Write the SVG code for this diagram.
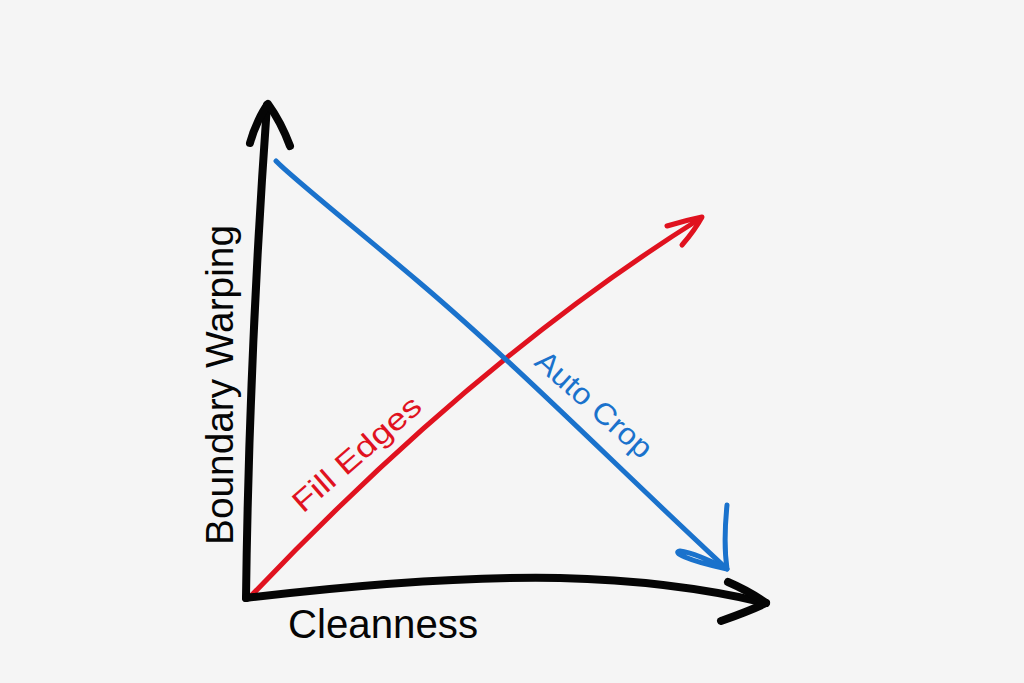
<svg xmlns="http://www.w3.org/2000/svg" width="1024" height="683" viewBox="0 0 1024 683">
<style>
.ink{fill:none;stroke-linecap:round;stroke-linejoin:round}
.k{stroke:#050505;stroke-width:8}
.b{stroke:#1a72cc;stroke-width:5}
.r{stroke:#e0121f;stroke-width:5}
.t{font-family:"Liberation Sans","DejaVu Sans",sans-serif}
</style>
<rect width="1024" height="683" fill="#f5f5f5"/>
<g id="connectors">
<g id="red-line">
<path class="ink r" d="M250,597 Q476,359 701,218"/>
<path class="ink r" d="M667,226 C680,222 692,219 702,217 C696,228 689,237 682,245"/>
</g>
<g id="blue-line">
<path class="ink b" d="M276,161 C290,176 360,232 420,283 C520,368 620,470 727,569"/>
<path class="ink b" d="M727,505 C725,525 724,548 727,569 C710,560 690,552 680,551 C672,552 685,560 727,569"/>
</g>
</g>
<g id="y-axis">
<path class="ink k" d="M246,598 C248,440 256,260 267,105"/>
<path class="ink k" d="M250,143 C254,128 262,112 268,104 C276,115 284,130 290,146"/>
<text class="t" transform="translate(233,545) rotate(-90)" font-size="38" textLength="320" lengthAdjust="spacingAndGlyphs" fill="#050505">Boundary Warping</text>
</g>
<g id="x-axis">
<path class="ink k" d="M246,598 C330,588 450,576 560,578 C650,580 720,592 766,603"/>
<path class="ink k" d="M728,582 C742,588 756,596 766,603 C752,610 735,616 721,621"/>
<text class="t" x="288" y="638" font-size="40" textLength="190" lengthAdjust="spacingAndGlyphs" fill="#050505">Cleanness</text>
</g>
<g id="fill-edges">
<text class="t" transform="translate(303,514) rotate(-41)" font-size="30" textLength="160" lengthAdjust="spacingAndGlyphs" fill="#e0121f">Fill Edges</text>
</g>
<g id="auto-crop">
<text class="t" transform="translate(533,364) rotate(41.5)" font-size="30" textLength="145" lengthAdjust="spacingAndGlyphs" fill="#1a72cc">Auto Crop</text>
</g>
</svg>
